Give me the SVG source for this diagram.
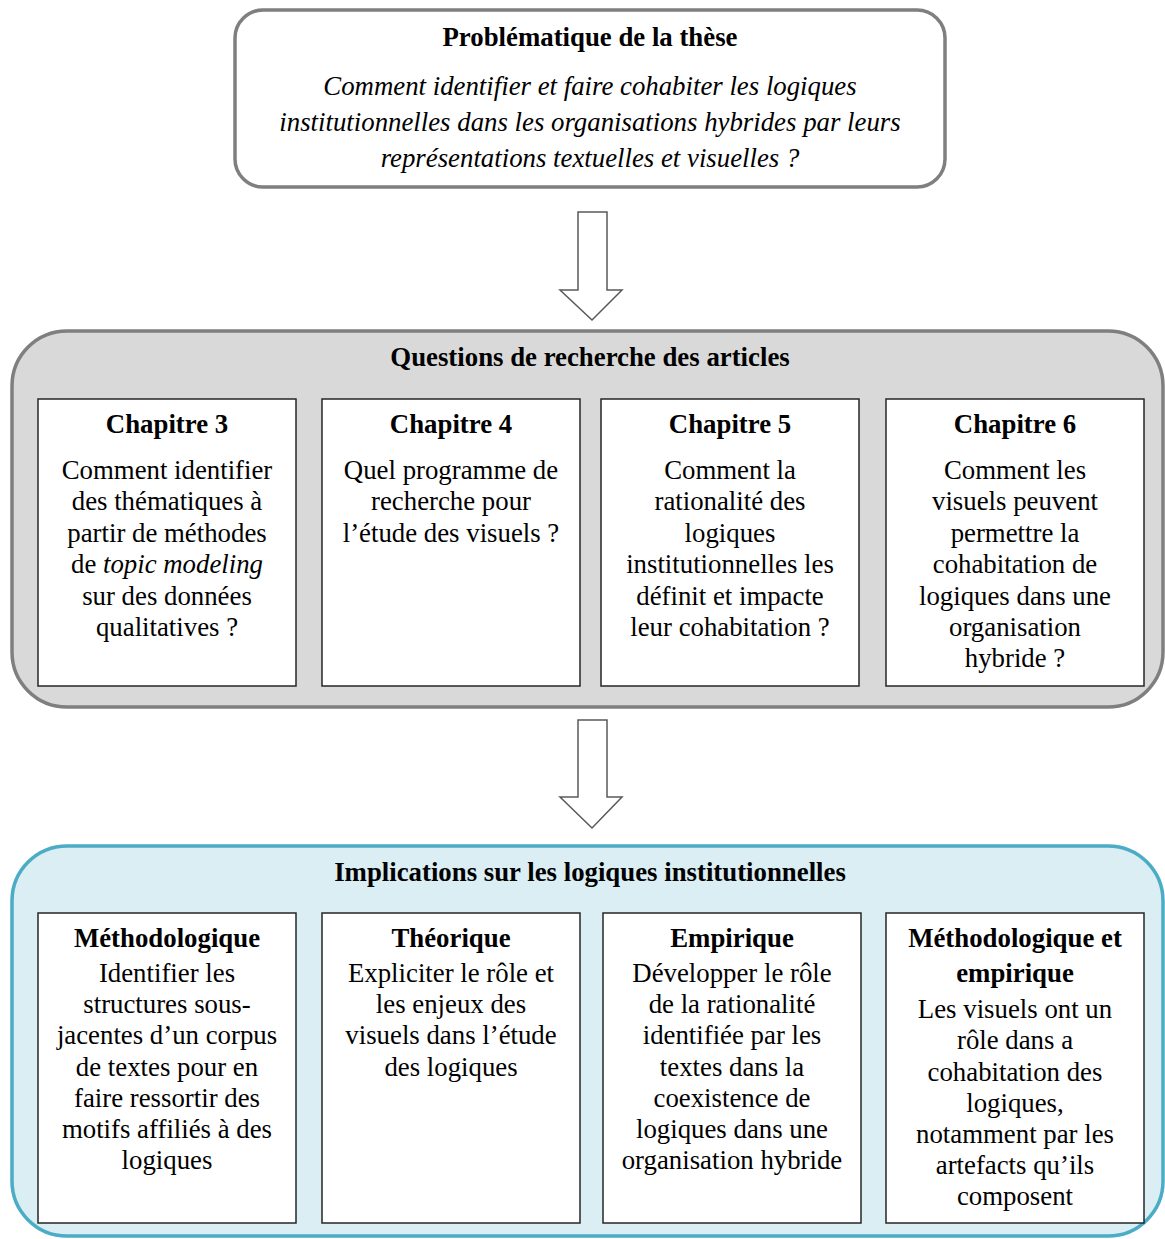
<svg xmlns="http://www.w3.org/2000/svg" width="1165" height="1239" viewBox="0 0 1165 1239">
<style>
text{fill:#000;text-anchor:middle}
.t{font-size:26.8px;font-weight:bold}
.b{font-size:26.8px}
.i{font-size:26.8px;font-style:italic}
.card{fill:#fff;stroke:#262626;stroke-width:1.5}
.arrow{fill:#fff;stroke:#595959;stroke-width:1.5}
</style>
<rect width="1165" height="1239" fill="#fff"/>
<g id="connectors">
<path class="arrow" d="M578,212 H607 V290 H622 L592,320 L560,290 H578 Z"/>
<path class="arrow" d="M578,720 H607 V797 H622 L592,828 L560,797 H578 Z"/>
</g>
<g font-family="Liberation Serif, DejaVu Serif, serif">
<g id="problematique">
<rect x="235" y="10" width="710" height="177" rx="28" fill="#fff" stroke="#7f7f7f" stroke-width="3.5"/>
<text class="t" x="590" y="46">Problématique de la thèse</text>
<text class="i" x="590" y="95">Comment identifier et faire cohabiter les logiques</text>
<text class="i" x="590" y="131">institutionnelles dans les organisations hybrides par leurs</text>
<text class="i" x="590" y="167">représentations textuelles et visuelles ?</text>
</g>
<g id="questions">
<rect x="12" y="331" width="1151" height="376" rx="55" fill="#d9d9d9" stroke="#7f7f7f" stroke-width="3.5"/>
<text class="t" x="590" y="366">Questions de recherche des articles</text>
</g>
<g id="chapitre3">
<rect class="card" x="38" y="399" width="258" height="287"/>
<text class="t" x="167" y="433">Chapitre 3</text>
<text class="b" x="167" y="479">Comment identifier</text>
<text class="b" x="167" y="510">des thématiques à</text>
<text class="b" x="167" y="542">partir de méthodes</text>
<text class="b" x="167" y="573">de <tspan font-style="italic">topic modeling</tspan></text>
<text class="b" x="167" y="605">sur des données</text>
<text class="b" x="167" y="636">qualitatives ?</text>
</g>
<g id="chapitre4">
<rect class="card" x="322" y="399" width="258" height="287"/>
<text class="t" x="451" y="433">Chapitre 4</text>
<text class="b" x="451" y="479">Quel programme de</text>
<text class="b" x="451" y="510">recherche pour</text>
<text class="b" x="451" y="542">l’étude des visuels ?</text>
</g>
<g id="chapitre5">
<rect class="card" x="601" y="399" width="258" height="287"/>
<text class="t" x="730" y="433">Chapitre 5</text>
<text class="b" x="730" y="479">Comment la</text>
<text class="b" x="730" y="510">rationalité des</text>
<text class="b" x="730" y="542">logiques</text>
<text class="b" x="730" y="573">institutionnelles les</text>
<text class="b" x="730" y="605">définit et impacte</text>
<text class="b" x="730" y="636">leur cohabitation ?</text>
</g>
<g id="chapitre6">
<rect class="card" x="886" y="399" width="258" height="287"/>
<text class="t" x="1015" y="433">Chapitre 6</text>
<text class="b" x="1015" y="479">Comment les</text>
<text class="b" x="1015" y="510">visuels peuvent</text>
<text class="b" x="1015" y="542">permettre la</text>
<text class="b" x="1015" y="573">cohabitation de</text>
<text class="b" x="1015" y="605">logiques dans une</text>
<text class="b" x="1015" y="636">organisation</text>
<text class="b" x="1015" y="667">hybride ?</text>
</g>
<g id="implications">
<rect x="12" y="846" width="1151" height="390" rx="55" fill="#daeef3" stroke="#4bacc6" stroke-width="3.5"/>
<text class="t" x="590" y="881">Implications sur les logiques institutionnelles</text>
</g>
<g id="methodologique">
<rect class="card" x="38" y="913" width="258" height="310"/>
<text class="t" x="167" y="947">Méthodologique</text>
<text class="b" x="167" y="982">Identifier les</text>
<text class="b" x="167" y="1013">structures sous-</text>
<text class="b" x="167" y="1044">jacentes d’un corpus</text>
<text class="b" x="167" y="1076">de textes pour en</text>
<text class="b" x="167" y="1107">faire ressortir des</text>
<text class="b" x="167" y="1138">motifs affiliés à des</text>
<text class="b" x="167" y="1169">logiques</text>
</g>
<g id="theorique">
<rect class="card" x="322" y="913" width="258" height="310"/>
<text class="t" x="451" y="947">Théorique</text>
<text class="b" x="451" y="982">Expliciter le rôle et</text>
<text class="b" x="451" y="1013">les enjeux des</text>
<text class="b" x="451" y="1044">visuels dans l’étude</text>
<text class="b" x="451" y="1076">des logiques</text>
</g>
<g id="empirique">
<rect class="card" x="603" y="913" width="258" height="310"/>
<text class="t" x="732" y="947">Empirique</text>
<text class="b" x="732" y="982">Développer le rôle</text>
<text class="b" x="732" y="1013">de la rationalité</text>
<text class="b" x="732" y="1044">identifiée par les</text>
<text class="b" x="732" y="1076">textes dans la</text>
<text class="b" x="732" y="1107">coexistence de</text>
<text class="b" x="732" y="1138">logiques dans une</text>
<text class="b" x="732" y="1169">organisation hybride</text>
</g>
<g id="methodologique-empirique">
<rect class="card" x="886" y="913" width="258" height="310"/>
<text class="t" x="1015" y="947">Méthodologique et</text>
<text class="t" x="1015" y="982">empirique</text>
<text class="b" x="1015" y="1018">Les visuels ont un</text>
<text class="b" x="1015" y="1049">rôle dans a</text>
<text class="b" x="1015" y="1081">cohabitation des</text>
<text class="b" x="1015" y="1112">logiques,</text>
<text class="b" x="1015" y="1143">notamment par les</text>
<text class="b" x="1015" y="1174">artefacts qu’ils</text>
<text class="b" x="1015" y="1205">composent</text>
</g>
</g>
</svg>
